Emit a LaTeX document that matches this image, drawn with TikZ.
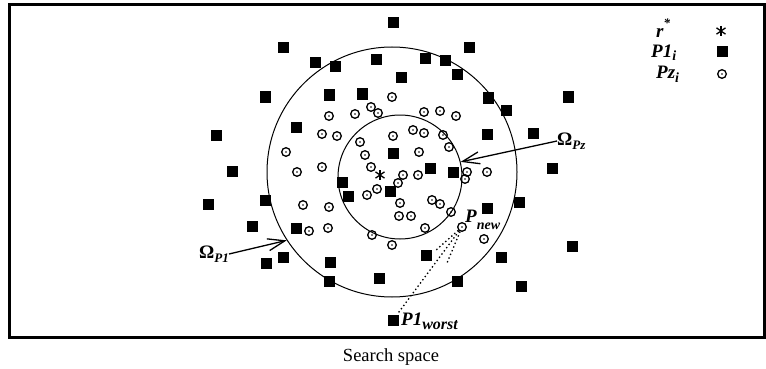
\documentclass[tikz,border=0pt]{standalone}
\usepackage{fontspec}
\setmainfont{Liberation Serif}
\usetikzlibrary{arrows.meta}
\begin{document}
\begin{tikzpicture}[x=1pt,y=-1pt,
  sq/.style={fill=black,inner sep=0pt,minimum size=11pt},
  pz/.style={draw=black,line width=1.3pt,circle,inner sep=0pt,minimum size=8.6pt,
    path picture={\fill (path picture bounding box.center) circle (0.85pt);}},
  ast/.style={inner sep=0pt,minimum size=11pt,
    path picture={\draw[line width=1.3pt] (path picture bounding box.center) ++(90:5pt) -- ++(270:10pt);
                  \draw[line width=1.3pt] (path picture bounding box.center) ++(35:5.5pt) -- ++(215:11pt);
                  \draw[line width=1.3pt] (path picture bounding box.center) ++(145:5.5pt) -- ++(325:11pt);}},
  lab/.style={inner sep=0pt,font=\fontsize{19}{19}\selectfont\bfseries\itshape},
  ring/.style={draw=black,circle,line width=1pt,inner sep=0pt},
  arr/.style={line width=1.3pt,-{Straight Barb[length=17pt,width=12pt,line width=1.3pt]}},
  dotln/.style={line width=1.3pt,dash pattern=on 1.4pt off 2.6pt}
]
\useasboundingbox (0,0) rectangle (766,369);
\node[draw=black,line width=3pt,minimum width=755pt,minimum height=333pt,inner sep=0pt] (frame) at (387,171) {};
\node[font=\fontsize{18.5}{18.5}\selectfont,inner sep=0pt] (title) at (391,357) {Search space};

\node[ring,minimum size=250pt] (outer) at (392,172) {};
\node[ring,minimum size=124pt] (inner) at (400,177) {};

% P1 squares
\foreach \x/\y [count=\i] in {393/23,283/48,469/48,315/63,335/67,376/60,425/59,445/61,457/75,401/78,
  265/97,329/95,362/94,488/98,506/110,568/97,
  216/135,296/127,487/134,533/133,
  393/153,430/168,453/172,552/168,232/171,
  342/182,348/196,390/191,265/200,208/204,519/202,487/208,
  252/226,296/228,572/246,
  266/263,283/257,330/262,426/255,501/257,
  329/281,379/278,457/281,521/286}
  \node[sq] (s\i) at (\x,\y) {};
\node[sq] (worst) at (393,320) {};

% Pz circles
\foreach \x/\y [count=\i] in {392/97,329/116,355/114,371/107,378/113,424/112,440/111,456/116,
  322/134,337/136,393/136,413/130,424/133,443/135,449/147,
  286/152,360/142,419/152,365/155,
  297/172,322/167,371/167,403/175,418/175,467/172,465/179,487/172,
  398/183,377/189,367/195,
  400/203,432/200,440/204,303/205,329/207,451/212,
  399/216,411/216,309/231,328/228,425/228,372/235,484/239,392/245}
  \node[pz] (c\i) at (\x,\y) {};
\node[pz] (pnew) at (462,227) {};

\node[ast] (rstar) at (380,175) {};

% labels and arrows
\node[lab,anchor=east] (lp1) at (229,254) {\textup{Ω}\raisebox{-4pt}{\fontsize{13}{13}\selectfont P1}};
\node[lab,anchor=west] (lpz) at (557,141) {\textup{Ω}\raisebox{-4pt}{\fontsize{13}{13}\selectfont Pz}};
\draw[arr] (lp1.east) -- (outer.213.7);
\draw[arr] (lpz.west) -- (inner.14.5);

\node[lab,anchor=base west] (tnew) at (465,222) {P\raisebox{-7pt}{\fontsize{14}{14}\selectfont new}};
\node[lab,anchor=base west] (tworst) at (401,325) {P1\raisebox{-4pt}{\fontsize{16}{16}\selectfont worst}};

\coordinate (d1) at (435,251);
\coordinate (d2) at (447,263);
\draw[dotln] (pnew) -- (worst);
\draw[dotln] (pnew) -- (d1);
\draw[dotln] (pnew) -- (d2);

% legend
\node[lab,anchor=base west] (lr) at (656,38) {r\raisebox{10pt}{\fontsize{13}{13}\selectfont *}};
\node[lab,anchor=base west] (lP1) at (651,58) {P1\raisebox{-3pt}{\fontsize{14}{14}\selectfont i}};
\node[lab,anchor=base west] (lPz) at (656,78) {Pz\raisebox{-5pt}{\fontsize{14}{14}\selectfont i}};
\node[ast] (kr) at (721,31) {};
\node[sq] (k1) at (722,52) {};
\node[pz] (kz) at (722,74) {};
\end{tikzpicture}
\end{document}
